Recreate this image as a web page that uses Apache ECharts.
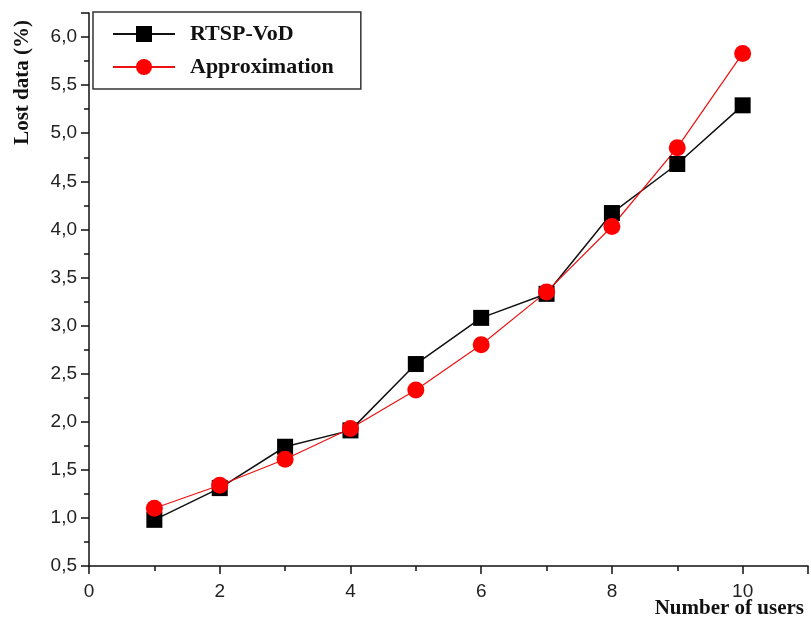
<!DOCTYPE html>
<html>
<head>
<meta charset="utf-8">
<script src="https://cdn.jsdelivr.net/npm/echarts@6/dist/echarts.min.js"></script>
<style>
  html, body { margin: 0; padding: 0; background: #fff; }
  #chart { width: 811px; height: 623px; }
</style>
</head>
<body>
<div id="chart"></div>
<script>
// data
const users = [1, 2, 3, 4, 5, 6, 7, 8, 9, 10];
const rtspVod = [0.98, 1.31, 1.74, 1.91, 2.60, 3.08, 3.33, 4.17, 4.68, 5.29];
const approximation = [1.10, 1.34, 1.61, 1.93, 2.33, 2.80, 3.35, 4.03, 4.85, 5.83];

const serif = "'Liberation Serif', 'Times New Roman', serif";
const sans = "'Liberation Sans', Arial, sans-serif";

const chart = echarts.init(document.getElementById('chart'));

const option = {
  backgroundColor: '#fff',
  animation: false,
  grid: { left: 89, right: 3, top: 13, bottom: 57 },
  legend: {
    left: 93,
    top: 12,
    orient: 'vertical',
    borderColor: '#333',
    borderWidth: 1.5,
    padding: [11, 27, 11, 19],
    itemWidth: 62,
    itemHeight: 20,
    itemGap: 11,
    textStyle: {
      fontFamily: serif, fontWeight: 'bold', fontSize: 22, color: '#111',
      padding: [0, 0, 0, 10]
    },
    data: ['RTSP-VoD', 'Approximation']
  },
  xAxis: {
    type: 'value',
    min: 0,
    max: 11,
    interval: 2,
    axisLine: { onZero: false, lineStyle: { color: '#111', width: 1.5 } },
    axisTick: { length: 8, lineStyle: { color: '#111', width: 1.5 } },
    minorTick: { show: true, splitNumber: 2, length: 5, lineStyle: { color: '#111', width: 1.5 } },
    splitLine: { show: false },
    axisLabel: {
      showMaxLabel: false,
      margin: 16,
      fontFamily: sans,
      fontSize: 19,
      color: '#222'
    }
  },
  yAxis: {
    type: 'value',
    min: 0.5,
    max: 6.25,
    interval: 0.5,
    axisLine: { show: true, onZero: false, lineStyle: { color: '#111', width: 1.5 } },
    axisTick: { show: true, length: 8, lineStyle: { color: '#111', width: 1.5 } },
    minorTick: { show: true, splitNumber: 2, length: 5, lineStyle: { color: '#111', width: 1.5 } },
    splitLine: { show: false },
    axisLabel: {
      showMaxLabel: false,
      margin: 12,
      fontFamily: sans,
      fontSize: 19,
      color: '#222',
      formatter: v => v.toFixed(1).replace('.', ',')
    }
  },
  series: [
    {
      name: 'RTSP-VoD',
      type: 'line',
      data: users.map((u, i) => [u, rtspVod[i]]),
      symbol: 'rect',
      symbolSize: 16,
      lineStyle: { color: '#111', width: 1.5 },
      itemStyle: { color: '#000' }
    },
    {
      name: 'Approximation',
      type: 'line',
      data: users.map((u, i) => [u, approximation[i]]),
      symbol: 'circle',
      symbolSize: 17,
      lineStyle: { color: '#ee1111', width: 1.2 },
      itemStyle: { color: '#ff0000' }
    }
  ],
  graphic: [
    {
      type: 'text',
      left: 12,
      top: 20,
      rotation: Math.PI / 2,
      style: {
        text: 'Lost data (%)',
        font: "bold 21px " + serif,
        fill: '#111'
      }
    },
    {
      type: 'text',
      right: 7,
      top: 598,
      style: {
        text: 'Number of users',
        font: "bold 21px " + serif,
        fill: '#111'
      }
    }
  ]
};

chart.setOption(option);
</script>
</body>
</html>
